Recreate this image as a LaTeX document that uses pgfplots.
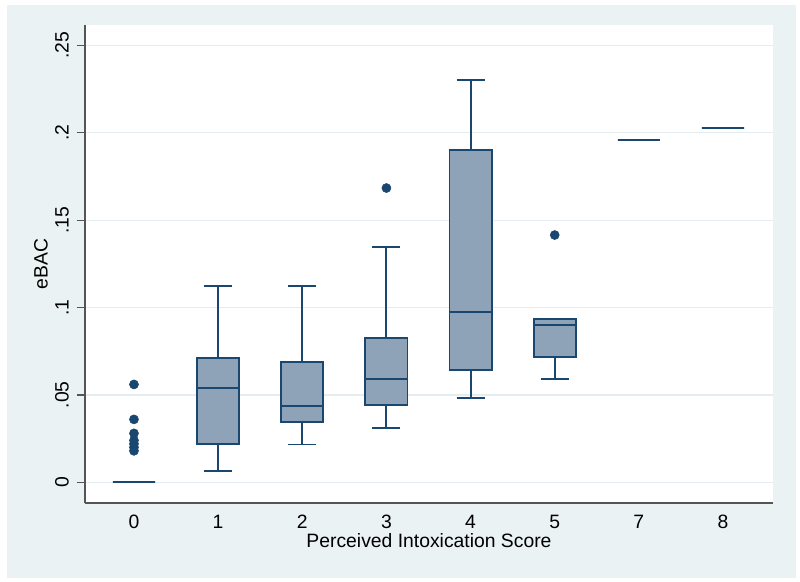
\documentclass[border=0pt]{standalone}
\usepackage{fontspec}
\setmainfont{Liberation Sans}
\usepackage{pgfplots}
\pgfplotsset{compat=1.18}
\usepgfplotslibrary{statistics}

\definecolor{stnavy}{HTML}{1A476F}
\definecolor{boxfill}{HTML}{8EA3B8}
\definecolor{stbg}{HTML}{EAF2F3}
\definecolor{gridc}{HTML}{E4EDF0}
\definecolor{axc}{HTML}{555555}

\pgfplotsset{
  stbox/.style={
    draw=stnavy, fill=boxfill, line width=1.4pt,
    solid, mark=*, mark size=3.4pt,
    mark options={fill=stnavy, draw=stnavy, line width=0.4pt},
    boxplot/draw direction=y,
    boxplot/box extend=0.5,
    boxplot/whisker extend=0.333,
  },
}

\begin{document}
\begin{tikzpicture}
  % page and outer region (1px = 0.75pt)
  \fill[white] (-63.75pt,-59.25pt) rectangle (536.25pt,377.25pt);
  \fill[stbg] (-58.5pt,-56.25pt) rectangle (533.25pt,373.5pt);
  \begin{axis}[
    scale only axis,
    width=516pt, height=358.5pt,
    axis background/.style={fill=white},
    axis x line*=bottom, axis y line*=left,
    axis line style={draw=axc, line width=0.9pt},
    xmin=-0.582, xmax=7.594,
    ymin=-0.01185, ymax=0.2617,
    xtick={0,1,2,3,4,5,6,7},
    xticklabels={0,1,2,3,4,5,7,8},
    xtick style={draw=none},
    ytick={0,0.05,0.1,0.15,0.2,0.25},
    yticklabels={0,.05,.1,.15,.2,.25},
    tick align=outside,
    major tick length=6pt,
    ytick style={draw=axc, line width=0.9pt},
    ymajorgrids,
    grid style={draw=gridc, line width=1pt},
    tick label style={font=\fontsize{14.5}{16}\selectfont, inner sep=0pt},
    xticklabel style={anchor=north, yshift=-3pt},
    yticklabel style={xshift=-6pt, rotate=90, anchor=south},
    /pgf/number format/assume math mode=true,
    xlabel={Perceived Intoxication Score},
    ylabel={eBAC},
    every axis x label/.style={at={(axis description cs:0.5,0)}, anchor=north,
      yshift=-23pt, inner sep=0pt, font=\fontsize{14.5}{16}\selectfont},
    every axis y label/.style={at={(axis description cs:0,0.5)}, xshift=-33pt,
      rotate=90, anchor=center, inner sep=0pt, font=\fontsize{14.5}{16}\selectfont},
  ]
    % score 0
    \addplot[stbox, boxplot prepared={draw position=0,
      lower whisker=0, lower quartile=0, median=0,
      upper quartile=0, upper whisker=0}]
      table[row sep=\\, y index=0] {0.056\\ 0.036\\ 0.028\\ 0.024\\ 0.022\\ 0.020\\ 0.018\\};
    % score 1
    \addplot[stbox, boxplot prepared={draw position=1,
      lower whisker=0.0066, lower quartile=0.0221, median=0.0538,
      upper quartile=0.0710, upper whisker=0.1121}]
      coordinates {};
    % score 2
    \addplot[stbox, boxplot prepared={draw position=2,
      lower whisker=0.0216, lower quartile=0.0346, median=0.0435,
      upper quartile=0.0686, upper whisker=0.1121}]
      coordinates {};
    % score 3
    \addplot[stbox, boxplot prepared={draw position=3,
      lower whisker=0.0311, lower quartile=0.0441, median=0.0592,
      upper quartile=0.0828, upper whisker=0.1345}]
      table[row sep=\\, y index=0] {0.1684\\};
    % score 4
    \addplot[stbox, boxplot prepared={draw position=4,
      lower whisker=0.0484, lower quartile=0.0641, median=0.0973,
      upper quartile=0.1903, upper whisker=0.2300}]
      coordinates {};
    % score 5
    \addplot[stbox, boxplot prepared={draw position=5,
      lower whisker=0.0590, lower quartile=0.0716, median=0.0899,
      upper quartile=0.0933, upper whisker=0.0933}]
      table[row sep=\\, y index=0] {0.1415\\};
    % score 7
    \addplot[stbox, boxplot prepared={draw position=6,
      lower whisker=0.1959, lower quartile=0.1959, median=0.1959,
      upper quartile=0.1959, upper whisker=0.1959}]
      coordinates {};
    % score 8
    \addplot[stbox, boxplot prepared={draw position=7,
      lower whisker=0.2027, lower quartile=0.2027, median=0.2027,
      upper quartile=0.2027, upper whisker=0.2027}]
      coordinates {};
  \end{axis}
\end{tikzpicture}
\end{document}
